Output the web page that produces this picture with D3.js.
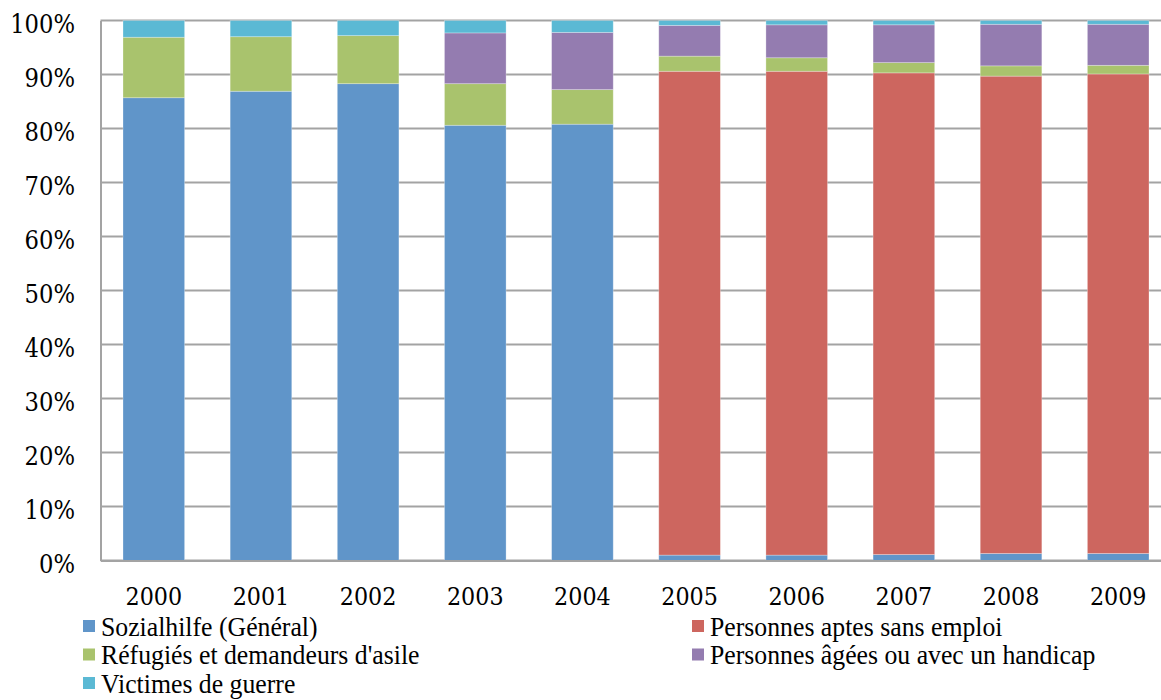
<!DOCTYPE html>
<html>
<head>
<meta charset="utf-8">
<script src="https://cdn.jsdelivr.net/npm/d3@7"></script>
<style>
  html, body { margin: 0; padding: 0; background: #fff; }
  svg { display: block; }
</style>
</head>
<body>
<svg id="chart" width="1161" height="700"></svg>
<script>
// Years shown on the x axis
const years = ["2000", "2001", "2002", "2003", "2004", "2005", "2006", "2007", "2008", "2009"];

// Share of each group per year (percent), stacked bottom to top
const sozialhilfe     = [85.7, 86.9, 88.3, 80.6, 80.8, 1.0, 1.0, 1.1, 1.3, 1.3];
const aptesSansEmploi = [0, 0, 0, 0, 0, 89.6, 89.6, 89.2, 88.4, 88.8];
const refugies        = [11.2, 10.1, 8.9, 7.7, 6.4, 2.8, 2.5, 1.9, 1.9, 1.6];
const agesHandicap    = [0, 0, 0, 9.4, 10.6, 5.7, 6.1, 7.0, 7.7, 7.6];
const victimes        = [3.1, 3.0, 2.8, 2.3, 2.2, 0.9, 0.8, 0.8, 0.7, 0.7];

const seriesNames = [
  "Sozialhilfe (Général)",
  "Personnes aptes sans emploi",
  "Réfugiés et demandeurs d'asile",
  "Personnes âgées ou avec un handicap",
  "Victimes de guerre"
];
const yTicks = [0, 10, 20, 30, 40, 50, 60, 70, 80, 90, 100];

const colors = ["#6095C9", "#CD665F", "#A9C36D", "#947CB0", "#5BB9D4"];
const keys = ["s0", "s1", "s2", "s3", "s4"];
const seriesValues = [sozialhilfe, aptesSansEmploi, refugies, agesHandicap, victimes];

const rows = years.map((yr, i) => {
  const r = { year: yr };
  keys.forEach((k, j) => r[k] = seriesValues[j][i]);
  return r;
});

const svg = d3.select("#chart");
const margin = { left: 100.5, top: 20.5, bottom: 560.5 };
const plotRight = 1171.5;

const x = d3.scaleBand().domain(years).range([margin.left, plotRight]).paddingInner(0.425).paddingOuter(0.21);
const y = d3.scaleLinear().domain([0, 100]).range([margin.bottom, margin.top]);

const timesFont = "Liberation Serif";
const numFont = "DejaVu Serif";

// Horizontal gridlines
svg.append("g").selectAll("line").data(yTicks).join("line")
  .attr("x1", margin.left).attr("x2", plotRight)
  .attr("y1", d => y(d)).attr("y2", d => y(d))
  .attr("stroke", "#A3A3A3").attr("stroke-width", 2);

// Stacked bars
const layers = d3.stack().keys(keys)(rows);
svg.append("g").selectAll("g").data(layers).join("g")
  .attr("fill", (d, i) => colors[i])
  .selectAll("rect").data(d => d.filter(s => s[1] - s[0] > 0)).join("rect")
  .attr("x", d => x(d.data.year))
  .attr("width", x.bandwidth())
  .attr("y", d => y(d[1]))
  .attr("height", d => y(d[0]) - y(d[1]))
  .attr("stroke", "rgba(255,255,255,0.35)")
  .attr("stroke-width", 0.8);

// Y axis
const ySx = 0.89;
const gy = svg.append("g").attr("transform", `translate(${margin.left},0)`)
  .call(d3.axisLeft(y).tickValues(yTicks).tickFormat(d => d + "%").tickSize(0));
gy.select(".domain").attr("stroke", "#A3A3A3").attr("stroke-width", 2);
gy.selectAll("text")
  .style("font-family", numFont).style("font-size", "25.5px").attr("fill", "#000")
  .attr("text-anchor", "end")
  .attr("x", -25.5 / ySx).attr("dy", null).attr("y", 12)
  .attr("transform", `scale(${ySx},1)`);

// X axis
const gx = svg.append("g").attr("transform", `translate(0,${margin.bottom})`)
  .call(d3.axisBottom(x).tickSize(0));
gx.select(".domain").attr("stroke", "#A3A3A3").attr("stroke-width", 2);
gx.selectAll("text")
  .style("font-family", numFont).style("font-size", "25px").attr("fill", "#000")
  .attr("dy", null).attr("y", 44.5)
  .attr("transform", `scale(${ySx},1)`);

// Legend: two columns, three rows
const legSx = 0.92;
const legendPos = [
  { x: 83, y: 636 }, { x: 692, y: 636 },
  { x: 83, y: 664.5 }, { x: 692, y: 664.5 },
  { x: 83, y: 693 }
];
const lg = svg.append("g");
seriesNames.forEach((name, i) => {
  const p = legendPos[i];
  lg.append("rect").attr("x", p.x).attr("y", p.y - 16).attr("width", 12).attr("height", 12).attr("fill", colors[i]);
  lg.append("text")
    .attr("x", (p.x + 18) / legSx).attr("y", p.y)
    .attr("transform", `scale(${legSx},1)`)
    .style("font-family", timesFont).style("font-size", "28px").attr("fill", "#000")
    .text(name);
});
</script>
</body>
</html>
